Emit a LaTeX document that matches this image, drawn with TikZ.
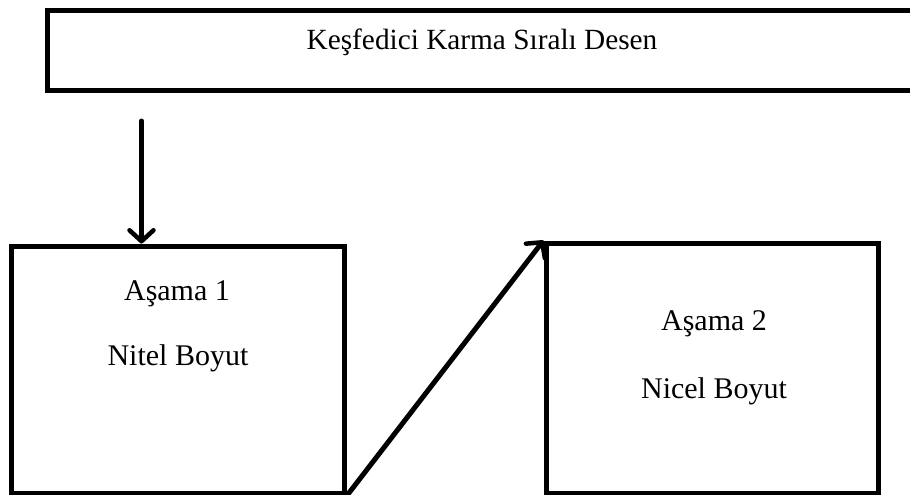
\documentclass[tikz,border=0pt]{standalone}
\usepackage{fontspec}
\setmainfont{Liberation Serif}
\usetikzlibrary{arrows.meta}
\begin{document}
\begin{tikzpicture}[x=1pt,y=-1pt,
  box/.style={draw=black, line width=5pt, rectangle, inner sep=0pt, line join=miter},
  conn/.style={line width=5pt, line cap=round, -{Straight Barb[length=11pt,width=24pt,line width=4.5pt,round]}},
  lbl/.style={inner sep=0pt, anchor=base},
  big/.style={font=\fontsize{30}{36}\selectfont},
  toptxt/.style={font=\fontsize{29.3}{35}\selectfont}]
\useasboundingbox (0,0) rectangle (910,495);
\clip (0,0) rectangle (910,495);
\node[box, minimum width=867.5pt, minimum height=80pt] (top) at (481.25,50.5) {};
\node[box, minimum width=333pt, minimum height=247pt] (b1) at (178,369.5) {};
\node[box, minimum width=332pt, minimum height=250pt] (b2) at (712,368) {};
\node[lbl, toptxt] (t0) at (482,49) {Keşfedici Karma Sıralı Desen};
\node[lbl, big] (t1) at (177,300) {Aşama 1};
\node[lbl, big] (t2) at (178,365) {Nitel Boyut};
\node[lbl, big] (t3) at (714,330) {Aşama 2};
\node[lbl, big] (t4) at (714,398) {Nicel Boyut};
\coordinate (a0) at (141.5,121);
\draw[conn] (a0) -- (a0 |- b1.north);
\draw[conn] (b1.south east) -- (b2.north west);
\end{tikzpicture}
\end{document}
